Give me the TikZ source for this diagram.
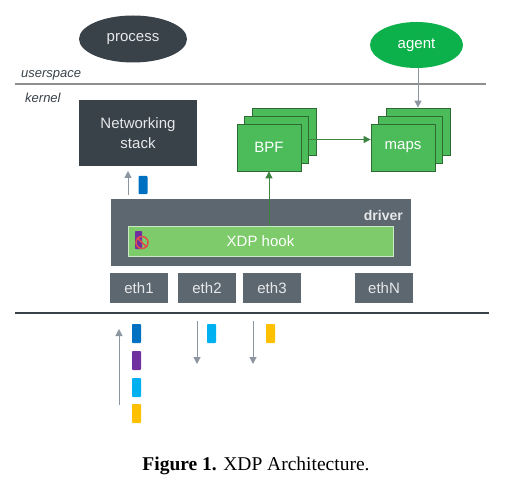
\documentclass[tikz,border=0pt]{standalone}
\usepackage{fontspec}
\setmainfont{Liberation Serif}
\setsansfont{Liberation Sans}
\usetikzlibrary{shapes.geometric,arrows.meta}
\definecolor{darknode}{HTML}{394149}
\definecolor{drivergray}{HTML}{5D6770}
\definecolor{agentgreen}{HTML}{0DB14B}
\definecolor{bpfgreen}{HTML}{4CBB5A}
\definecolor{bpfborder}{HTML}{2E6B33}
\definecolor{xdpgreen}{HTML}{7DCB6A}
\definecolor{xdpborder}{HTML}{CDE8C6}
\definecolor{arrowgray}{HTML}{8C96A0}
\definecolor{arrowgreen}{HTML}{3D8440}
\definecolor{linegray}{HTML}{8E8E8E}
\definecolor{pblue}{HTML}{0070C0}
\definecolor{ppurple}{HTML}{7030A0}
\definecolor{pcyan}{HTML}{00B0F0}
\definecolor{pyellow}{HTML}{FFC000}
\definecolor{nored}{HTML}{E0504A}
\definecolor{lighttext}{HTML}{E6E8EA}
\begin{document}
\begin{tikzpicture}[x=1pt,y=-1pt,
  lbl/.style={font=\sffamily\fontsize{15}{17}\selectfont, text=lighttext},
  ell/.style={ellipse, inner sep=0pt, lbl},
  darkbox/.style={rectangle, fill=darknode, inner sep=0pt, lbl, align=center},
  stackbox/.style={rectangle, fill=bpfgreen, draw=bpfborder, line width=0.8pt, inner sep=0pt, minimum width=64pt, minimum height=47pt, lbl, text=white},
  ethbox/.style={rectangle, fill=drivergray, inner sep=0pt, minimum width=58pt, minimum height=30pt, lbl},
  garrow/.style={draw=arrowgray, line width=1pt, -{Triangle[width=7pt,length=7pt]}, arrowgray},
  grarrow/.style={draw=arrowgreen, line width=1pt, -{Triangle[width=7pt,length=7pt]}, arrowgreen},
  pkt/.style={rectangle, inner sep=0pt, minimum width=9pt, minimum height=19pt, rounded corners=0.8pt},
  spacelbl/.style={font=\sffamily\itshape\fontsize{13}{15}\selectfont, text=darknode, anchor=base west, inner sep=0pt}
]
\useasboundingbox (0,0) rectangle (526,486);
\fill[white] (0,0) rectangle (526,486);

% separator lines
\coordinate (sepL) at (15,84);
\coordinate (sepR) at (486,84);
\draw[linegray, line width=1.8pt] (sepL) -- (sepR);
\coordinate (botL) at (15,313);
\coordinate (botR) at (489,313);
\draw[darknode, line width=1.4pt] (botL) -- (botR);

\node[spacelbl] (us) at (21,78) {userspace};
\node[spacelbl] (kn) at (25,103) {kernel};

% userspace ellipses
\node[ell, fill=darknode, minimum width=108pt, minimum height=47pt] (process) at (133,39) {process};
\node[ell, fill=agentgreen, minimum width=93pt, minimum height=46pt, text=white] (agent) at (416.5,45) {agent};

% networking stack
\node[darkbox, minimum width=118pt, minimum height=66pt, font=\sffamily\fontsize{15}{20}\selectfont] (net) at (138,133) {Networking\\stack};

% BPF stack
\node[stackbox] (bpf3) at (284,131.5) {};
\node[stackbox] (bpf2) at (276.5,139.5) {};
\node[stackbox] (bpf) at (269,147.5) {BPF};
% maps stack
\node[stackbox] (maps3) at (418,131.5) {};
\node[stackbox] (maps2) at (410.5,139.5) {};
\node[stackbox] (maps) at (403,147.5) {maps};

% driver
\node[rectangle, fill=drivergray, inner sep=0pt, minimum width=300pt, minimum height=67pt] (driver) at (261,232.5) {};
\node[font=\sffamily\bfseries\fontsize{14}{16}\selectfont, text=lighttext, anchor=base east, inner sep=0pt] (drvlbl) at (403,220) {driver};
\node[rectangle, fill=xdpgreen, draw=xdpborder, line width=1pt, inner sep=0pt, minimum width=265pt, minimum height=30pt, lbl, text=white] (xdp) at (260.5,241) {XDP hook};

% dropped packet
\node[pkt, fill=ppurple, minimum width=7pt, minimum height=18pt] (drop) at (138.5,240) {};
\node[circle, draw=nored, line width=1.5pt, minimum size=12pt, inner sep=0pt] (nosign) at (142,242.5) {};
\draw[nored, line width=1.5pt] (nosign.north west) -- (nosign.south east);

% eth boxes
\node[ethbox] (eth1) at (139,288) {eth1};
\node[ethbox] (eth2) at (207,288) {eth2};
\node[ethbox] (eth3) at (272,288) {eth3};
\node[ethbox] (ethN) at (384,288) {ethN};

% green arrows
\draw[grarrow] (xdp.north -| bpf.south) -- (bpf.south);
\draw[grarrow] (bpf2.east) -- (bpf2.east -| maps.west);
% agent to maps
\draw[garrow] (agent.south -| maps3.north) -- (maps3.north);

% pass to networking stack
\coordinate (passS) at (128,195);
\coordinate (passE) at (128,171);
\draw[garrow] (passS) -- (passE);
\node[pkt, fill=pblue, minimum height=18pt] (p0) at (143,185) {};

% incoming packets
\coordinate (inS) at (119,405);
\coordinate (inE) at (119,329);
\draw[garrow] (inS) -- (inE);
\node[pkt, fill=pblue] (p1) at (136.5,333.5) {};
\node[pkt, fill=ppurple] (p2) at (136.5,360.5) {};
\node[pkt, fill=pcyan] (p3) at (136.5,387.5) {};
\node[pkt, fill=pyellow] (p4) at (136.5,413.5) {};

% transmitted packets
\coordinate (tx2S) at (197,321);
\coordinate (tx2E) at (197,364);
\draw[garrow] (tx2S) -- (tx2E);
\node[pkt, fill=pcyan] (p5) at (211.5,333.5) {};
\coordinate (tx3S) at (253,321);
\coordinate (tx3E) at (253,364);
\draw[garrow] (tx3S) -- (tx3E);
\node[pkt, fill=pyellow] (p6) at (270.5,333.5) {};

% caption
\node[font=\fontsize{19.5}{22}\selectfont, anchor=base, inner sep=0pt] (cap) at (256,470) {\textbf{Figure 1.} XDP Architecture.};
\end{tikzpicture}
\end{document}
